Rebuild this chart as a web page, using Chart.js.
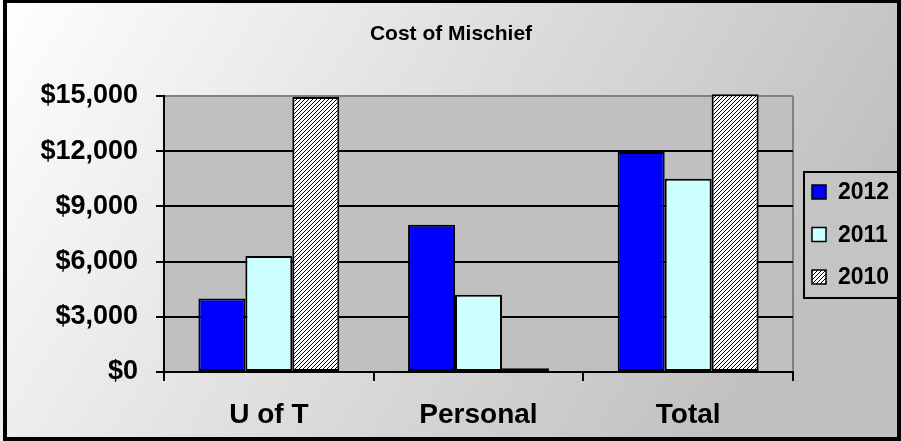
<!DOCTYPE html>
<html>
<head>
<meta charset="utf-8">
<script src="https://cdn.jsdelivr.net/npm/chart.js@4.4.1/dist/chart.umd.min.js"></script>
<style>
  body { margin: 0; background: #fff; }
  #wrap { width: 901px; height: 441px; }
</style>
</head>
<body>
<div id="wrap"><canvas id="mischiefChart" width="901" height="441"></canvas></div>
<script>
    // 値
    const chartTitle = 'Cost of Mischief';
    const categories = ['U of T', 'Personal', 'Total'];
    const years = ['2012', '2011', '2010'];
    const cost2012 = [4000, 8000, 11950];
    const cost2011 = [6300, 4200, 10500];
    const cost2010 = [14950, 200, 15100];
    const yMin = 0, yMax = 15000, yStep = 3000;

    const FONT = '"Liberation Sans", Arial, sans-serif';
    const ctx = document.getElementById('mischiefChart').getContext('2d');

    // 斜線パターン (2010)
    function makeHatch() {
        const c = document.createElement('canvas');
        c.width = 4; c.height = 4;
        const g = c.getContext('2d');
        g.fillStyle = '#ffffff';
        g.fillRect(0, 0, 4, 4);
        g.strokeStyle = '#000000';
        g.lineWidth = 1;
        g.beginPath();
        g.moveTo(0, 4); g.lineTo(4, 0);
        g.moveTo(-1, 1); g.lineTo(1, -1);
        g.moveTo(3, 5); g.lineTo(5, 3);
        g.stroke();
        return ctx.createPattern(c, 'repeat');
    }
    const hatch = makeHatch();

    // 背景・タイトル・プロットエリア・凡例・外枠
    const decor = {
        id: 'decor',
        beforeDraw(chart) {
            const c = chart.ctx, a = chart.chartArea;
            const W = chart.width, H = chart.height;
            const grad = c.createLinearGradient(0, 0, 720, 440);
            grad.addColorStop(0, '#ffffff');
            grad.addColorStop(1, '#c0c0c0');
            c.save();
            c.fillStyle = grad;
            c.fillRect(0, 0, W, H);
            // タイトル
            c.fillStyle = '#000';
            c.font = 'bold 21px ' + FONT;
            c.textAlign = 'center';
            c.textBaseline = 'middle';
            c.fillText(chartTitle, 451, 34);
            // プロットエリア
            c.fillStyle = '#c0c0c0';
            c.fillRect(a.left, a.top, a.right - a.left, a.bottom - a.top);
            c.strokeStyle = '#808080';
            c.lineWidth = 2;
            c.beginPath();
            c.moveTo(a.right, a.top);
            c.lineTo(a.right, a.bottom);
            c.stroke();
            c.restore();
        },
        afterDraw(chart) {
            const c = chart.ctx;
            c.save();
            // 凡例
            c.fillStyle = '#c4c4c4';
            c.fillRect(803, 172, 110, 126);
            c.strokeStyle = '#000';
            c.lineWidth = 2;
            c.strokeRect(804, 172, 110, 126);
            c.font = 'bold 23px ' + FONT;
            c.textBaseline = 'middle';
            chart.data.datasets.forEach((ds, i) => {
                const cy = 192 + i * 42.5;
                c.fillStyle = ds.backgroundColor;
                c.fillRect(812, cy - 7, 14, 14);
                c.lineWidth = 1.5;
                c.strokeStyle = '#000';
                c.strokeRect(812, cy - 7, 14, 14);
                c.fillStyle = '#000';
                c.fillText(ds.label, 838, cy + 1);
            });
            // 外枠
            c.lineWidth = 4;
            c.strokeStyle = '#000';
            c.strokeRect(5, 1, 894, 438);
            c.restore();
        }
    };

    new Chart(ctx, {
        type: 'bar',
        data: {
            labels: categories,
            datasets: [
                { label: years[0], data: cost2012, backgroundColor: '#0000ff' },
                { label: years[1], data: cost2011, backgroundColor: '#ccffff' },
                { label: years[2], data: cost2010, backgroundColor: hatch }
            ]
        },
        options: {
            responsive: false,
            animation: false,
            clip: false,
            layout: { padding: { top: 96, left: 0, right: 108, bottom: 0 } },
            datasets: {
                bar: {
                    borderColor: '#000',
                    borderWidth: 2,
                    borderSkipped: false,
                    categoryPercentage: 0.672,
                    barPercentage: 1.0
                }
            },
            plugins: {
                legend: { display: false },
                tooltip: { enabled: false },
                title: { display: false }
            },
            scales: {
                x: {
                    afterFit: s => { s.height = 69; },
                    grid: { display: true, drawOnChartArea: false, offset: true, color: '#000', lineWidth: 2, tickLength: 9 },
                    border: { display: true, color: '#000', width: 2 },
                    ticks: {
                        color: '#000',
                        padding: 17,
                        font: { family: FONT, size: 28, weight: 'bold' }
                    }
                },
                y: {
                    min: yMin,
                    max: yMax,
                    afterFit: s => { s.width = 164; },
                    grid: {
                        color: c => (c.tick && c.tick.value === yMax ? '#808080' : '#000'),
                        tickColor: '#000',
                        lineWidth: 2,
                        tickLength: 8
                    },
                    border: { display: true, color: '#000', width: 2 },
                    ticks: {
                        stepSize: yStep,
                        color: '#000',
                        padding: 18,
                        font: { family: FONT, size: 27, weight: 'bold' },
                        callback: v => '$' + v.toLocaleString('en-US')
                    }
                }
            }
        },
        plugins: [decor]
    });
</script>
</body>
</html>
